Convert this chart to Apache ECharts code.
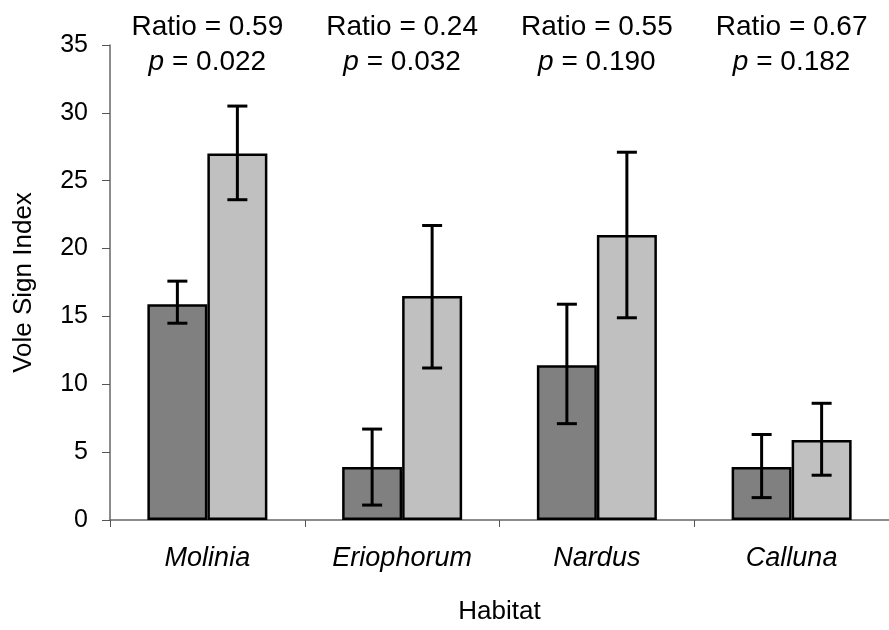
<!DOCTYPE html>
<html><head><meta charset="utf-8">
<script src="https://cdn.jsdelivr.net/npm/echarts@6/dist/echarts.min.js"></script>
<style>html,body{margin:0;padding:0;background:#fff}#c{width:889px;height:630px}</style>
</head><body><div id="c"></div>
<script>
var categories = ['Molinia', 'Eriophorum', 'Nardus', 'Calluna'];
var darkValues = [15.9, 3.9, 11.4, 3.9];
var darkLow = [14.5, 1.1, 7.1, 1.65];
var darkHigh = [17.6, 6.7, 15.9, 6.3];
var lightValues = [27.0, 16.5, 21.0, 5.9];
var lightLow = [23.6, 11.2, 14.9, 3.3];
var lightHigh = [30.5, 21.7, 27.1, 8.6];
var ratios = ['0.59', '0.24', '0.55', '0.67'];
var pValues = ['0.022', '0.032', '0.190', '0.182'];
var yTicks = [0, 5, 10, 15, 20, 25, 30, 35];

var FONT = '"Liberation Sans", Arial, sans-serif';
var BAR_W = 60;

function errSeries(low, high, offset) {
  return {
    type: 'custom',
    z: 5,
    silent: true,
    data: low.map(function (l, i) { return [i, l, high[i]]; }),
    renderItem: function (params, api) {
      var i = api.value(0);
      var lo = api.coord([i, api.value(1)]);
      var hi = api.coord([i, api.value(2)]);
      var x = lo[0] + offset;
      var cw = 10;
      var st = { stroke: '#000', lineWidth: 3 };
      return { type: 'group', children: [
        { type: 'line', shape: { x1: x, y1: lo[1], x2: x, y2: hi[1] }, style: st },
        { type: 'line', shape: { x1: x - cw, y1: lo[1], x2: x + cw, y2: lo[1] }, style: st },
        { type: 'line', shape: { x1: x - cw, y1: hi[1], x2: x + cw, y2: hi[1] }, style: st }
      ]};
    }
  };
}

var chart = echarts.init(document.getElementById('c'));
chart.setOption({
  animation: false,
  backgroundColor: '#fff',
  grid: { left: 110, right: 0, top: 45, bottom: 110, containLabel: false, outerBoundsMode: 'none' },
  xAxis: {
    type: 'category',
    data: categories,
    name: 'Habitat',
    nameLocation: 'middle',
    nameGap: 79,
    nameTextStyle: { fontFamily: FONT, fontSize: 26, color: '#000' },
    axisLine: { lineStyle: { color: '#666', width: 1.5 } },
    axisTick: { show: true, length: 7, lineStyle: { color: '#555' } },
    axisLabel: { fontFamily: FONT, fontSize: 27, fontStyle: 'italic', color: '#000', margin: 25 }
  },
  yAxis: {
    type: 'value',
    min: 0, max: 35, interval: 5,
    name: 'Vole Sign Index',
    nameLocation: 'middle',
    nameGap: 73,
    nameTextStyle: { fontFamily: FONT, fontSize: 26, color: '#000' },
    splitLine: { show: false },
    axisLine: { show: true, lineStyle: { color: '#666', width: 1.5 } },
    axisTick: { show: true, length: 8, lineStyle: { color: '#555' } },
    axisLabel: { fontFamily: FONT, fontSize: 25, color: '#000', margin: 22,
      formatter: function (v) { return yTicks.indexOf(v) >= 0 ? String(v) : ''; } }
  },
  series: [
    { type: 'bar', data: darkValues, barWidth: BAR_W, barGap: '0%',
      itemStyle: { color: '#808080', borderColor: '#000', borderWidth: 2.5 } },
    { type: 'bar', data: lightValues, barWidth: BAR_W, barGap: '0%',
      itemStyle: { color: '#c0c0c0', borderColor: '#000', borderWidth: 2.5 } },
    errSeries(darkLow, darkHigh, -BAR_W / 2),
    errSeries(lightLow, lightHigh, BAR_W / 2),
    {
      type: 'custom', silent: true, z: 6, clip: false,
      data: ratios.map(function (r, i) { return [i, 35]; }),
      renderItem: function (params, api) {
        var i = api.value(0);
        var p = api.coord([i, api.value(1)]);
        return { type: 'group', children: [
          { type: 'text', x: p[0], y: p[1] - 18,
            style: { text: 'Ratio = ' + ratios[i], align: 'center', verticalAlign: 'middle',
              font: '28px ' + FONT, fill: '#000' } },
          { type: 'text', x: p[0], y: p[1] + 17,
            style: { text: '{i|p} = ' + pValues[i], align: 'center', verticalAlign: 'middle',
              font: '28px ' + FONT, fill: '#000',
              rich: { i: { fontStyle: 'italic', fontSize: 28, fontFamily: FONT, fill: '#000' } } } }
        ]};
      }
    }
  ]
});
</script></body></html>
